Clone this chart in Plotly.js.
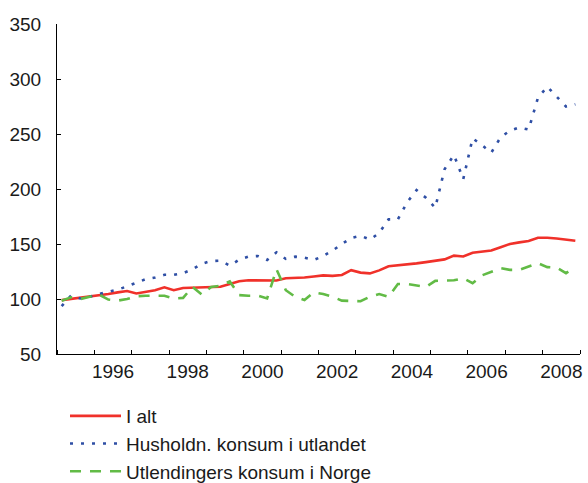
<!DOCTYPE html>
<html>
<head>
<meta charset="utf-8">
<script src="https://cdn.plot.ly/plotly-3.0.1.min.js"></script>
<style>
html,body{margin:0;padding:0;background:#fff;}
#chart{width:588px;height:483px;}
</style>
</head>
<body>
<div id="chart"></div>
<script>
// Quarterly index values, 1995Q1 .. 2008Q4
const years = [1995,1996,1997,1998,1999,2000,2001,2002,2003,2004,2005,2006,2007,2008];
const quarters = [1,2,3,4];

const iAlt = [
  99, 100, 101, 102,
  103.5, 104.5, 106, 107.3,
  105, 106.5, 108, 110.6,
  108, 110, 110.3, 110.8,
  111, 111.2, 113.6, 116.2,
  117, 117, 117.3, 116.8,
  118.8, 119, 119.5, 120.5,
  121.5, 121, 121.8, 126.2,
  124, 123.3, 126, 129.7,
  130.5, 131, 132.4, 133.5,
  134.5, 136, 139.4, 138.6,
  142, 143, 144, 147,
  150, 151.5, 152.7, 155.7,
  155.7, 155, 154, 153
];

const husholdn = [
  93.5, 103, 100.5, 102,
  104.5, 106.5, 108.5, 111.5,
  114.5, 118, 119.5, 122,
  122, 123.5, 127, 132,
  134.5, 134.8, 130.3, 135.7,
  138.5, 139.1, 135.5, 142.4,
  136.4, 138.5, 137.5, 135.5,
  139, 144, 150, 155.5,
  157.5, 154, 160, 172.4,
  172.4, 188, 199, 192,
  183, 218, 231, 209,
  246, 240, 233, 247,
  253, 256, 254, 283,
  293, 284, 275, 277
];

const utlendingers = [
  98.5, 101.5, 100, 102,
  104, 99.5, 98.5, 100,
  102.5, 103, 103, 103,
  100.5, 101, 111, 104,
  111, 112, 116, 103.5,
  103, 103, 100.5, 127,
  108, 102, 99, 106,
  104.5, 102, 98.5, 98,
  98, 102, 104.5, 102,
  113.6, 113.6, 112, 111,
  116.5, 117, 117, 118.8,
  114.3, 121.5, 125, 128,
  126.5, 126.5, 129.5, 132.5,
  129, 128.5, 123.5, 129
];

const seriesNames = ["I alt", "Husholdn. konsum i utlandet", "Utlendingers konsum i Norge"];
const tickYears = [1996,1998,2000,2002,2004,2006,2008];
const tickLabels = ["1996","1998","2000","2002","2004","2006","2008"];

// time axis: quarter midpoints
const t = [];
years.forEach(y => quarters.forEach(q => t.push(y + (q - 0.5) / 4)));

const FONT = "Liberation Sans, Arial, Helvetica, sans-serif";
const TXT = "#1a1a1a";

const traces = [
  {x: t, y: iAlt, name: seriesNames[0], type: "scatter", mode: "lines",
   line: {color: "#f0312a", width: 2.6}},
  {x: t, y: husholdn, name: seriesNames[1], type: "scatter", mode: "lines",
   line: {color: "#2f4fa5", width: 2.6, dash: "3px,8px"}},
  {x: t, y: utlendingers, name: seriesNames[2], type: "scatter", mode: "lines",
   line: {color: "#62bb46", width: 2.6, dash: "11px,9px"}}
];

const layout = {
  width: 588, height: 483,
  margin: {l: 57, r: 8, t: 24, b: 129, autoexpand: false},
  paper_bgcolor: "#fff", plot_bgcolor: "#fff",
  font: {family: FONT, size: 19, color: TXT},
  showlegend: true,
  legend: {
    orientation: "v", x: 65 / 588, xanchor: "left", y: 1 - 397 / 483, yanchor: "top",
    xref: "container", yref: "container",
    font: {family: FONT, size: 19, color: TXT},
    itemwidth: 51, bgcolor: "rgba(0,0,0,0)", tracegroupgap: 0,
    traceorder: "normal", borderwidth: 0
  },
  xaxis: {
    range: [1995, 2009], showgrid: false, zeroline: false,
    showline: true, linecolor: "#000", linewidth: 1,
    tickmode: "array", tickvals: tickYears.map(v => v + 0.5), ticktext: tickLabels,
    ticks: "", ticklabelstandoff: 0,
    minor: {tickmode: "linear", tick0: 1995, dtick: 1, ticks: "inside", ticklen: 4, tickcolor: "#000", tickwidth: 1, showgrid: false},
    tickfont: {family: FONT, size: 19, color: TXT},
    fixedrange: true
  },
  yaxis: {
    range: [50, 350], showgrid: false, zeroline: false,
    showline: true, linecolor: "#000", linewidth: 1,
    tickmode: "linear", tick0: 50, dtick: 50,
    ticks: "inside", ticklen: 4, tickcolor: "#000", tickwidth: 1,
    ticklabelstandoff: 11,
    tickfont: {family: FONT, size: 19, color: TXT},
    fixedrange: true
  }
};

Plotly.newPlot("chart", traces, layout, {displayModeBar: false, staticPlot: true});
</script>
</body>
</html>
